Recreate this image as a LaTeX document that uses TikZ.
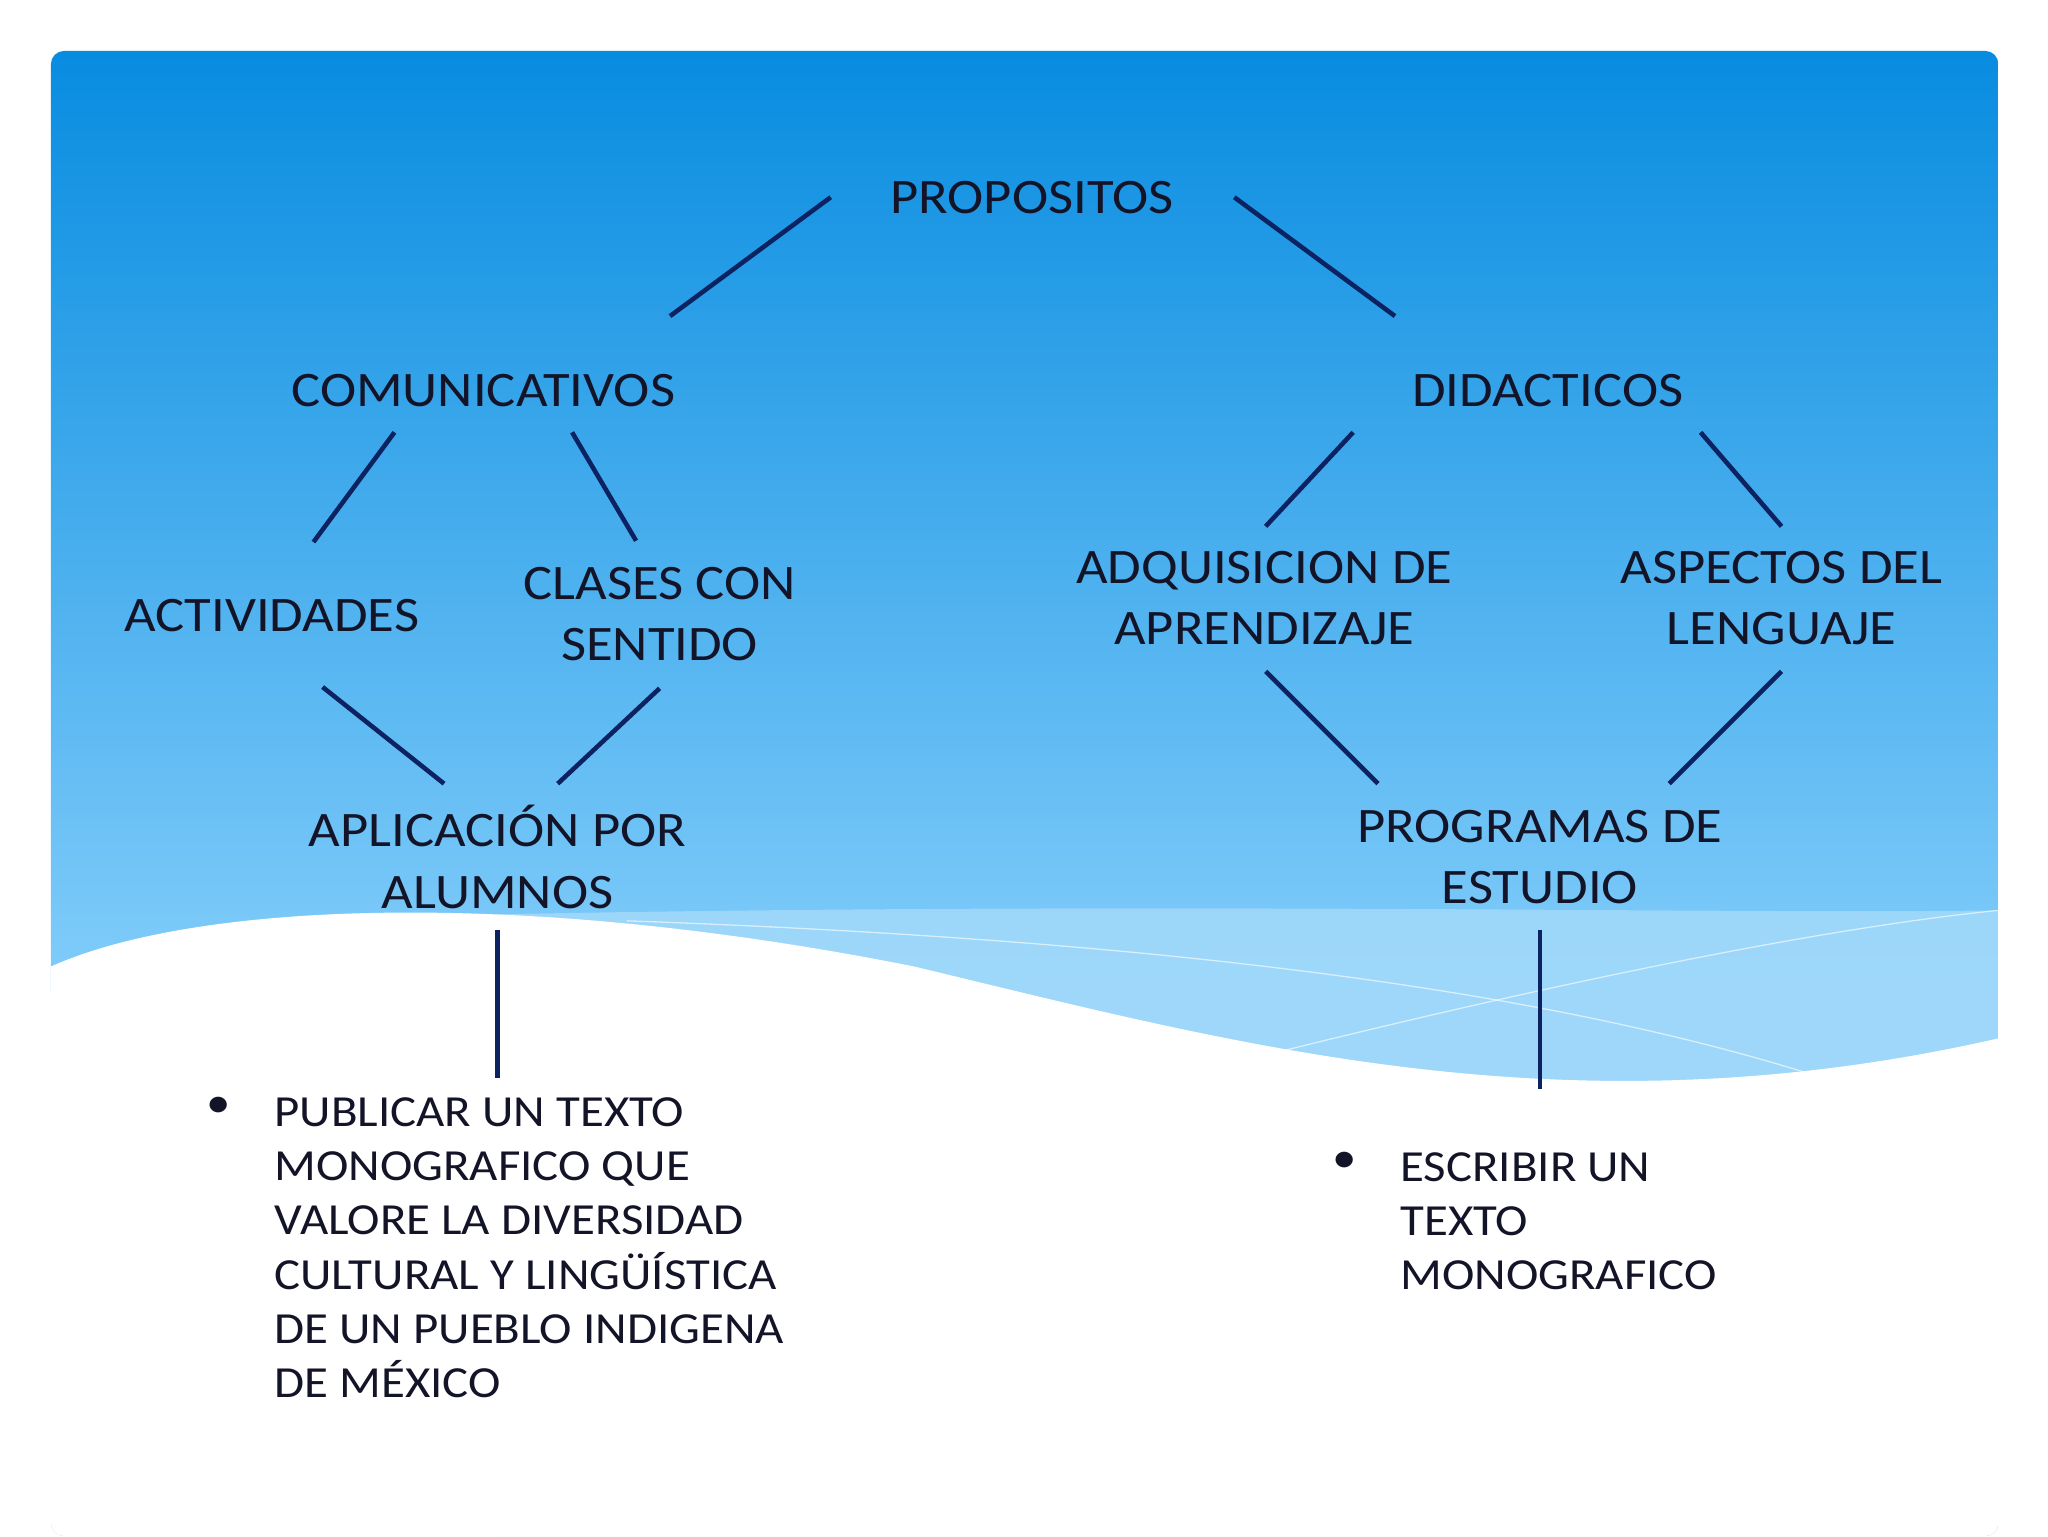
\documentclass[tikz,border=0pt]{standalone}
\usepackage{fontspec}
\setmainfont[FakeStretch=1.1]{Carlito}
\definecolor{topb}{RGB}{8,140,224}
\definecolor{botb}{RGB}{130,205,250}
\definecolor{band}{RGB}{165,218,249}
\definecolor{navy}{RGB}{13,34,96}
\definecolor{txt}{RGB}{20,20,40}
\begin{document}
\begin{tikzpicture}[x=1pt,y=-1pt,
  lbl/.style={text=txt, font=\fontsize{38}{47}\selectfont, align=center, inner sep=0},
  bul/.style={text=txt, font=\fontsize{34}{41.6}\selectfont, align=left, anchor=north west, inner sep=0},
  conn/.style={draw=navy, line width=3.5pt}]
\useasboundingbox (0,0) rectangle (1568,1176);
\fill[white] (0,0) rectangle (1568,1176);
\begin{scope}
\clip[rounded corners=10] (39,39) rectangle (1530,1176);
\shade[top color=topb, bottom color=botb] (39,39) rectangle (1530,760);
\fill[botb] (39,759) rectangle (1530,1176);
\fill[band,opacity=0.8] (380,700) .. controls (900,690) and (1300,700) .. (1530,697) -- (1530,1176) -- (380,1176) -- cycle;
\draw[white,opacity=0.6,line width=1pt] (480,705) .. controls (900,720) and (1200,760) .. (1410,830);
\draw[white,opacity=0.6,line width=1pt] (960,810) .. controls (1200,750) and (1400,710) .. (1530,697);
\fill[white] (39,740) .. controls (150,690) and (400,680) .. (700,740) .. controls (950,800) and (1200,870) .. (1530,795) -- (1530,1176) -- (39,1176) -- cycle;
\end{scope}
\node[lbl] (prop) at (790,151) {PROPOSITOS};
\node[lbl] (com) at (370,299) {COMUNICATIVOS};
\node[lbl] (did) at (1185,299) {DIDACTICOS};
\node[lbl] (act) at (208,471) {ACTIVIDADES};
\node[lbl] (cla) at (505,470) {CLASES CON\\SENTIDO};
\node[lbl] (adq) at (968,458) {ADQUISICION DE\\APRENDIZAJE};
\node[lbl] (asp) at (1364,458) {ASPECTOS DEL\\LENGUAJE};
\node[lbl] (apl) at (381,656) {APLICACIÓN POR\\ALUMNOS};
\node[lbl] (pro) at (1179,656) {PROGRAMAS DE\\ESTUDIO};
\node[bul] (b1) at (158,840) {•};
\node[bul] (t1) at (210,840) {PUBLICAR UN TEXTO\\MONOGRAFICO QUE\\VALORE LA DIVERSIDAD\\CULTURAL Y LINGÜÍSTICA\\DE UN PUEBLO INDIGENA\\DE MÉXICO};
\node[bul] (b2) at (1020,882) {•};
\node[bul] (t2) at (1072,882) {ESCRIBIR UN\\TEXTO\\MONOGRAFICO};
\foreach \a/\b/\n in {636/151/1a,513/242/1b,945/151/2a,1068/242/2b,302/331/3a,240/415/3b,438/331/4a,487/414/4b,1036/331/5a,969/403/5b,1302/331/6a,1364/403/6b,247/526/7a,340/600/7b,505/527/8a,427/600/8b,969/514/9a,1055/600/9b,1364/514/10a,1278/600/10b,381/712/11a,381/825/11b,1179/712/12a,1179/834/12b}
  \coordinate (c\n) at (\a,\b);
\foreach \i in {1,...,12} \draw[conn] (c\i a) -- (c\i b);
\end{tikzpicture}
\end{document}
